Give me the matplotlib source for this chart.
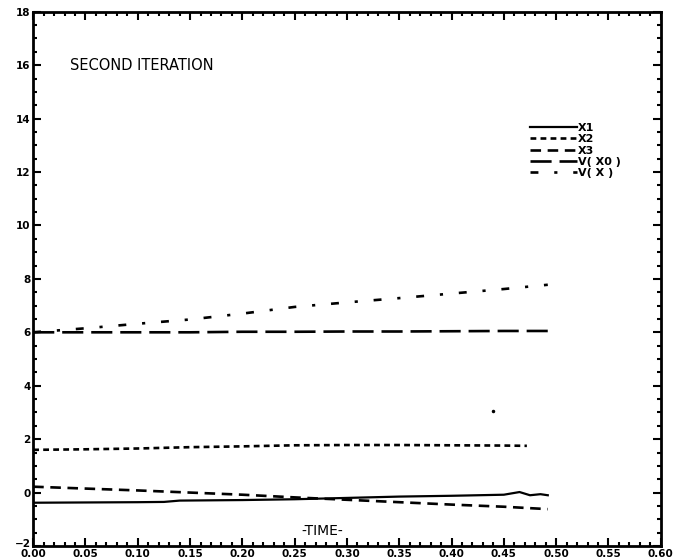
import matplotlib.pyplot as plt
import matplotlib.transforms as mtransforms
from matplotlib.ticker import MultipleLocator, FormatStrFormatter

# data
t_x1 = [0.0, 0.05, 0.10, 0.125, 0.14, 0.20, 0.25, 0.30, 0.35, 0.40, 0.45, 0.465, 0.475, 0.485, 0.492]
x1 = [-0.38, -0.37, -0.36, -0.35, -0.30, -0.28, -0.25, -0.20, -0.15, -0.12, -0.08, 0.02, -0.10, -0.06, -0.10]

t_x2 = [0.0, 0.05, 0.10, 0.15, 0.20, 0.25, 0.30, 0.35, 0.40, 0.45, 0.472]
x2 = [1.60, 1.62, 1.65, 1.70, 1.73, 1.77, 1.78, 1.78, 1.77, 1.76, 1.75]

t_all = [0.0, 0.05, 0.10, 0.15, 0.20, 0.25, 0.30, 0.35, 0.40, 0.45, 0.492]
x3 = [0.22, 0.15, 0.08, 0.0, -0.08, -0.18, -0.27, -0.36, -0.45, -0.53, -0.62]
v_x0 = [6.0, 6.0, 6.0, 6.0, 6.02, 6.02, 6.03, 6.03, 6.04, 6.05, 6.05]
v_x = [6.0, 6.15, 6.32, 6.48, 6.70, 6.95, 7.12, 7.28, 7.45, 7.62, 7.78]

fig = plt.figure(figsize=(6.77, 5.6), dpi=100)
ax = fig.add_axes([0.049, 0.025, 0.927, 0.954])

ax.plot(t_x1, x1, color='black', lw=1.6, ls='-', label='X1')
ax.plot(t_x2, x2, color='black', lw=1.9, ls=(0, (2.2, 1.6)), label='X2')
ax.plot(t_all, x3, color='black', lw=1.9, ls=(0, (4, 2.5)), label='X3')
ax.plot(t_all, v_x0, color='black', lw=1.9, ls=(0, (8, 3)), label='V( X0 )')
ax.plot(t_all, v_x, color='black', lw=1.9, ls=(0, (3, 6, 1.2, 6)), label='V( X )')
ax.plot([0.44], [3.05], 'k.', ms=3)

ax.set_xlim(0, 0.6)
ax.set_ylim(-2, 18)
ax.xaxis.set_major_locator(MultipleLocator(0.05))
ax.xaxis.set_minor_locator(MultipleLocator(0.01))
ax.yaxis.set_major_locator(MultipleLocator(2))
ax.yaxis.set_minor_locator(MultipleLocator(0.5))
ax.xaxis.set_major_formatter(FormatStrFormatter('%.2f'))
ax.tick_params(which='both', direction='in', top=True, right=True, width=1.5,
               labelsize=7.5, pad=2)
ax.tick_params(which='major', length=6)
ax.tick_params(which='minor', length=3)
for lbl in ax.get_xticklabels() + ax.get_yticklabels():
    lbl.set_fontweight('bold')
for s in ax.spines.values():
    s.set_linewidth(2)

# nudge the "-2" label up a little so it does not sit on "0.00"
fig.canvas.draw()
shift = mtransforms.ScaledTranslation(0, 2.5 / 72, fig.dpi_scale_trans)
for lbl in ax.get_yticklabels():
    if lbl.get_position()[1] == -2:
        lbl.set_transform(lbl.get_transform() + shift)

ax.text(0.035, 16, 'SECOND ITERATION', fontsize=10.5, va='center')
ax.text(0.276, -1.45, '-TIME-', fontsize=10, ha='center', va='center')

ax.legend(loc='upper left', bbox_to_anchor=(0.785, 0.80), frameon=False,
          handlelength=4.2, handletextpad=0.1, labelspacing=0.12,
          borderaxespad=0, prop={'weight': 'bold', 'size': 8})

fig.savefig('out.png', dpi=100)
